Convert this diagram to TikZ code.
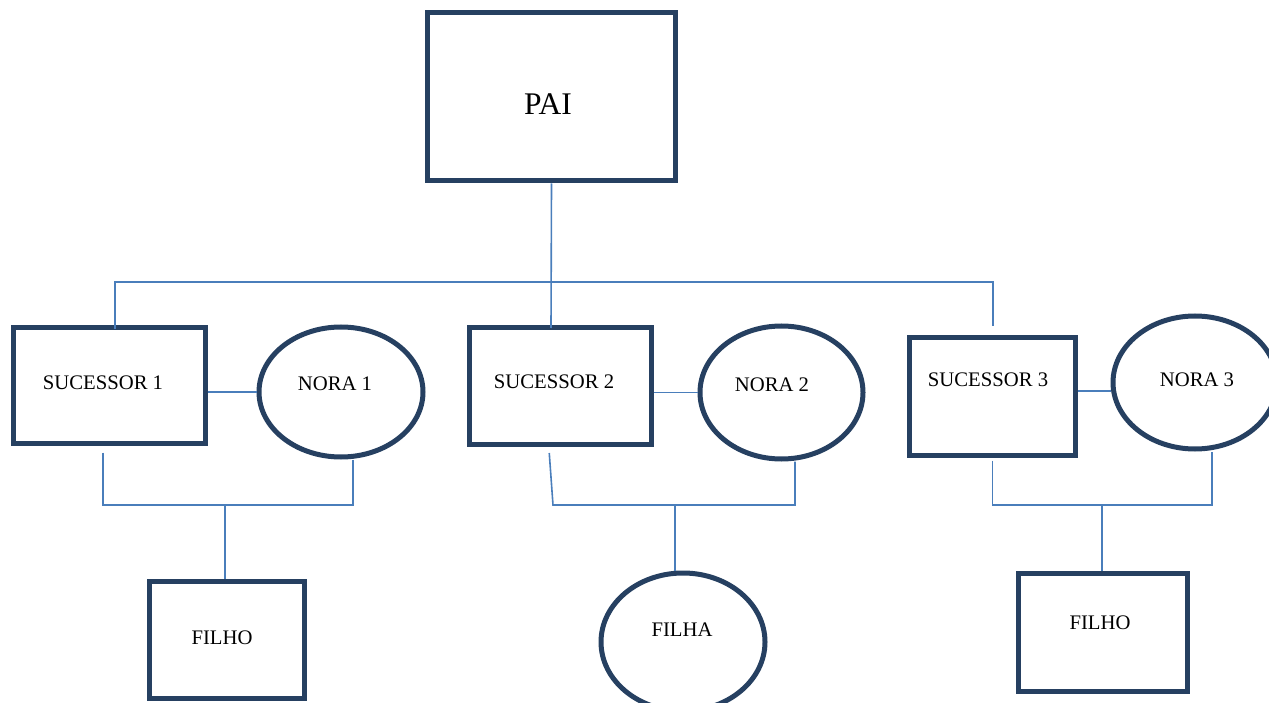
\documentclass[tikz,border=0pt]{standalone}
\usepackage{fontspec}
\setmainfont{Liberation Serif}
\usetikzlibrary{shapes.geometric,calc}
\definecolor{boxc}{HTML}{264061}
\definecolor{linec}{HTML}{4A7EBB}
\begin{document}
\begin{tikzpicture}[x=1pt,y=-1pt,
  sq/.style={draw=boxc,line width=5pt,rectangle,inner sep=0pt,fill=white},
  ov/.style={draw=boxc,line width=5pt,ellipse,inner sep=0pt,fill=white},
  lbl/.style={inner sep=0pt,font=\fontsize{20.7}{24}\selectfont},
  conn/.style={draw=linec,line width=1.6pt}]
\useasboundingbox (0,0) rectangle (1269,703);
% nodes
\node[sq,minimum width=248pt,minimum height=168pt] (pai) at (551.5,97) {};
\node[sq,minimum width=192pt,minimum height=116pt] (s1) at (109,385.5) {};
\node[ov,minimum width=164pt,minimum height=130pt] (n1) at (341,392) {};
\node[sq,minimum width=181.5pt,minimum height=117pt] (s2) at (560.25,386) {};
\node[ov,minimum width=163pt,minimum height=133pt] (n2) at (781.5,392.5) {};
\node[sq,minimum width=166pt,minimum height=118pt] (s3) at (992.5,396.5) {};
\node[ov,minimum width=164pt,minimum height=133pt] (n3) at (1195,382.5) {};
\node[sq,minimum width=155pt,minimum height=117pt] (f1) at (227,640) {};
\node[ov,minimum width=164pt,minimum height=138pt] (fa) at (683,642) {};
\node[sq,minimum width=169.5pt,minimum height=117.5pt] (f3) at (1102.75,632.25) {};
% labels
\node[lbl,font=\fontsize{31.5}{36}\selectfont] (tpai) at (548,104) {PAI};
\node[lbl] (ts1) at (103,383) {SUCESSOR 1};
\node[lbl] (tn1) at (335,384) {NORA 1};
\node[lbl] (ts2) at (554,382) {SUCESSOR 2};
\node[lbl] (tn2) at (772,385) {NORA 2};
\node[lbl] (ts3) at (988,380) {SUCESSOR 3};
\node[lbl] (tn3) at (1197,380) {NORA 3};
\node[lbl] (tf1) at (222,638) {FILHO};
\node[lbl] (tfa) at (682,630) {FILHA};
\node[lbl] (tf3) at (1100,623) {FILHO};
% junction coordinates
\coordinate (b1) at (115,282);
\coordinate (b2) at (993,282);
\coordinate (b3) at (993,326);
\coordinate (j1) at (225,505);
\coordinate (k2) at (553,505);
\coordinate (j2) at (675,505);
\coordinate (j3) at (1102,505);
% connectors
\draw[conn] (pai.south) -- ([xshift=-9.25pt,yshift=-3pt]s2.north);
\draw[conn] ([yshift=-4pt]b1 |- s1.north) -- (b1) -- (b2) -- (b3);
\draw[conn] (s1.east |- n1.west) -- (n1.west);
\draw[conn] (s2.east |- n2.west) -- (n2.west);
\draw[conn] ([yshift=5.5pt]s3.east) -- ([yshift=-8.5pt]n3.west);
\draw[conn] ([xshift=-6pt,yshift=-6.5pt]s1.south) |- (j1) -| ([xshift=12pt]n1.south);
\draw[conn] (j1) -- (j1 |- f1.north);
\draw[conn] ([xshift=-11pt,yshift=-6pt]s2.south) -- (k2) -| ([xshift=13.5pt]n2.south);
\draw[conn] (j2) -- (j2 |- fa.north);
\draw[conn] ([yshift=-2.5pt]s3.south) |- (j3) -| ([xshift=17pt]n3.south);
\draw[conn] (j3) -- (j3 |- f3.north);
\end{tikzpicture}
\end{document}
